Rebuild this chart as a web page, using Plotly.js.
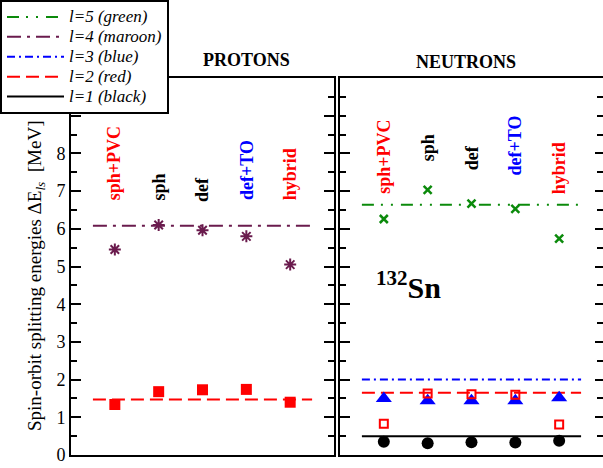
<!DOCTYPE html>
<html>
<head>
<meta charset="utf-8">
<script src="https://cdn.plot.ly/plotly-3.0.1.min.js"></script>
<style>html,body{margin:0;padding:0;background:#fff;}#chart{width:603px;height:468px;}</style>
</head>
<body>
<div id="chart"></div>
<script>
// ---- data ----
const methods = ['sph+PVC', 'sph', 'def', 'def+TO', 'hybrid'];
const methodColors = ['#ff0000', '#000000', '#000000', '#0000ff', '#ff0000'];
const xcat = [1, 2, 3, 4, 5];
const lineSpan = [0.5, 5.5];

// protons
const protonL4 = [5.45, 6.10, 5.96, 5.80, 5.05];
const protonL2 = [1.34, 1.68, 1.73, 1.74, 1.40];
const protonRefL4 = 6.08;
const protonRefL2 = 1.47;

// neutrons
const neutronL5 = [6.26, 7.03, 6.67, 6.53, 5.74];
const neutronL3 = [1.50, 1.44, 1.44, 1.44, 1.52];
const neutronL2 = [0.83, 1.63, 1.61, 1.60, 0.81];
const neutronL1 = [0.35, 0.31, 0.34, 0.33, 0.38];
const neutronRefL5 = 6.64;
const neutronRefL3 = 2.00;
const neutronRefL2 = 1.65;
const neutronRefL1 = 0.50;

const yTickVals = [0,1,2,3,4,5,6,7,8,9,10];
const yTickText = ['0','1','2','3','4','5','6','7','8','',''];

// ---- styles ----
const SERIF = 'Liberation Serif, Times New Roman, serif';
const GREEN = '#0b8a0b', MAROON = '#6a1b4d', BLUE = '#0000ff', RED = '#ff0000', BLACK = '#000000';

function legName(s) { return '<span style="font-size:17px"><i>' + s + '</i></span>'; }
function refLine(val, color, dash, name, xa, ya, show) {
  return {x: lineSpan, y: [val, val], xaxis: xa, yaxis: ya, mode: 'lines',
    line: {color: color, width: 2, dash: dash}, name: name, showlegend: show, hoverinfo: 'skip'};
}
function pts(vals, sym, size, color, lw, xa, ya) {
  return {x: xcat, y: vals, xaxis: xa, yaxis: ya, mode: 'markers', showlegend: false,
    marker: {symbol: sym, size: size, color: color, line: {color: color, width: lw}}};
}

const traces = [
  refLine(neutronRefL5, GREEN, '12px,7px,2px,8px,2px,8px', legName('l=5 (green)'), 'x2', 'y2', true),
  refLine(protonRefL4, MAROON, '14px,6px,3px,6px', legName('l=4 (maroon)'), 'x', 'y', true),
  refLine(neutronRefL3, BLUE, '8px,4px,2px,4px', legName('l=3 (blue)'), 'x2', 'y2', true),
  refLine(protonRefL2, RED, '13px,6px', legName('l=2 (red)'), 'x', 'y', true),
  refLine(neutronRefL1, BLACK, 'solid', legName('l=1 (black)'), 'x2', 'y2', true),
  refLine(neutronRefL2, RED, '13px,6px', 'l=2 n', 'x2', 'y2', false),
  pts(protonL4, 'asterisk-open', 10, MAROON, 2, 'x', 'y'),
  pts(protonL2, 'square', 11, RED, 0, 'x', 'y'),
  pts(neutronL5, 'x-thin-open', 8, GREEN, 2.5, 'x2', 'y2'),
  pts(neutronL3, 'triangle-up', 14, BLUE, 0, 'x2', 'y2'),
  pts(neutronL2, 'square-open', 8, RED, 2, 'x2', 'y2'),
  pts(neutronL1, 'circle', 12, BLACK, 0, 'x2', 'y2')
];

// category label bottoms (y positions in data units)
const protonLabelY = [6.70, 6.70, 6.66, 6.72, 6.71];
const neutronLabelY = [6.87, 7.74, 7.50, 7.37, 6.87];

const annotations = [];
methods.forEach((m, i) => {
  annotations.push({x: xcat[i], y: protonLabelY[i], xref: 'x', yref: 'y', text: '<b>' + m + '</b>',
    textangle: -90, showarrow: false, xanchor: 'center', yanchor: 'bottom',
    font: {family: SERIF, size: 18, color: methodColors[i]}});
  annotations.push({x: xcat[i], y: neutronLabelY[i], xref: 'x2', yref: 'y2', text: '<b>' + m + '</b>',
    textangle: -90, showarrow: false, xanchor: 'center', yanchor: 'bottom',
    font: {family: SERIF, size: 18, color: methodColors[i]}});
});
annotations.push({x: 0.329, y: 1.048, xref: 'paper', yref: 'paper', text: '<b>PROTONS</b>', showarrow: false,
  xanchor: 'center', yanchor: 'middle', font: {family: SERIF, size: 18, color: BLACK}});
annotations.push({x: 0.7425, y: 1.042, xref: 'paper', yref: 'paper', text: '<b>NEUTRONS</b>', showarrow: false,
  xanchor: 'center', yanchor: 'middle', font: {family: SERIF, size: 18, color: BLACK}});
annotations.push({x: 1.57, y: 4.5, xref: 'x2', yref: 'y2', text: '<b><sup>132</sup>Sn</b>', showarrow: false,
  xanchor: 'center', yanchor: 'middle', font: {family: SERIF, size: 30, color: BLACK}});
annotations.push({x: -0.0658, y: 0.4748, xref: 'paper', yref: 'paper',
  text: 'Spin-orbit splitting energies ΔE<sub><i>ls</i></sub>  [MeV]', textangle: -90, showarrow: false,
  xanchor: 'center', yanchor: 'middle', font: {family: SERIF, size: 19, color: BLACK}});

const xCommon = {range: [0, 6], showgrid: false, zeroline: false, showline: true, mirror: true,
  linecolor: BLACK, linewidth: 2, ticks: '', showticklabels: false, fixedrange: true};
const yCommon = {range: [0, 10], showgrid: false, zeroline: false, linecolor: BLACK, linewidth: 2,
  ticks: 'inside', ticklen: 10, tickwidth: 2, tickcolor: BLACK, tickmode: 'array',
  tickvals: yTickVals, ticktext: yTickText,
  minor: {dtick: 0.5, tick0: 0, ticks: 'inside', ticklen: 6, tickwidth: 2, tickcolor: BLACK},
  tickfont: {family: SERIF, size: 18, color: BLACK}, fixedrange: true};

const layout = {
  width: 603, height: 468,
  margin: {l: 71, r: 0, t: 78, b: 13, pad: 0},
  paper_bgcolor: '#ffffff', plot_bgcolor: '#ffffff',
  font: {family: SERIF, color: BLACK},
  showlegend: true,
  legend: {x: -0.1335, y: 1.207, xanchor: 'left', yanchor: 'top', xref: 'paper', yref: 'paper',
    bgcolor: '#ffffff', bordercolor: BLACK, borderwidth: 2, itemwidth: 57,
    font: {family: SERIF, size: 13, color: BLACK}, tracegroupgap: 0},
  xaxis: Object.assign({}, xCommon, {domain: [0, 0.4944], anchor: 'y'}),
  xaxis2: Object.assign({}, xCommon, {domain: [0.5056, 1], anchor: 'y2'}),
  yaxis: Object.assign({}, yCommon, {anchor: 'x', showline: true, mirror: 'ticks', showticklabels: true}),
  yaxis2: Object.assign({}, yCommon, {anchor: 'x2', showline: true, mirror: false, showticklabels: false}),
  yaxis3: Object.assign({}, yCommon, {anchor: 'x2', overlaying: 'y2', side: 'right', showline: false,
    showticklabels: false, ticklen: 8}),
  annotations: annotations
};
// dummy trace to activate yaxis3
traces.push({x: [0], y: [0], xaxis: 'x2', yaxis: 'y3', mode: 'markers', marker: {opacity: 0}, showlegend: false, hoverinfo: 'skip'});

Plotly.newPlot('chart', traces, layout, {displayModeBar: false, staticPlot: true});
</script>
</body>
</html>
